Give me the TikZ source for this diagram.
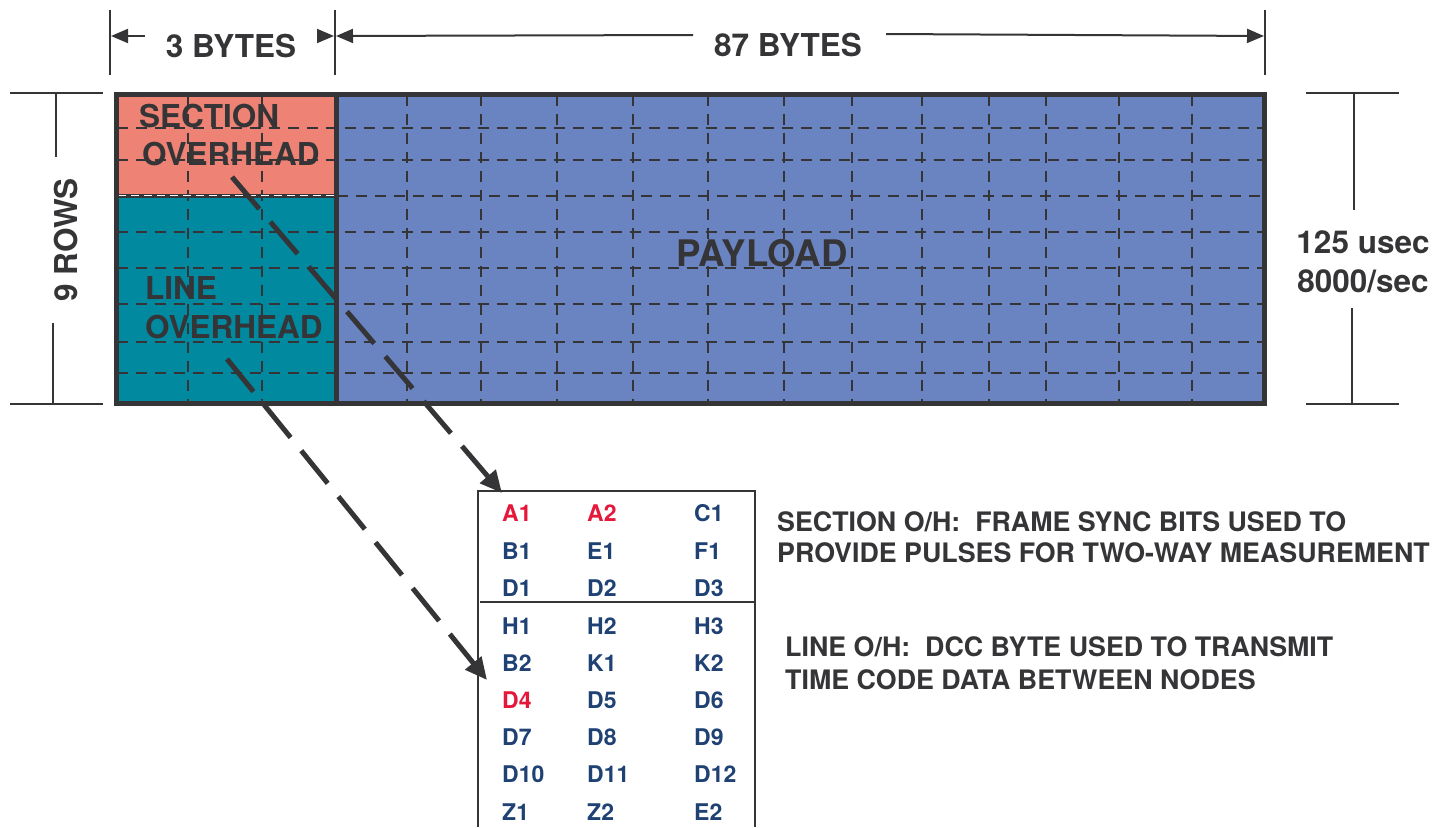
\documentclass[tikz,border=0pt]{standalone}
\usepackage{fontspec}
\setmainfont{TeX Gyre Heros}
\usetikzlibrary{arrows.meta}
\definecolor{ink}{HTML}{353437}
\definecolor{secoh}{HTML}{EE8274}
\definecolor{lineoh}{HTML}{00899F}
\definecolor{payl}{HTML}{6A84C2}
\definecolor{navy}{HTML}{1F4173}
\definecolor{hired}{HTML}{E5173A}
\begin{document}
\begin{tikzpicture}[x=1pt,y=-1pt,
  gridline/.style={draw=ink, line width=2.7pt, dash pattern=on 11pt off 8pt},
  dimline/.style={draw=ink, line width=2pt},
  dimtip/.style={-{Triangle[length=17pt,width=14pt]}},
  bigtxt/.style={font=\bfseries\fontsize{31.5}{34}\selectfont, text=ink, inner sep=0pt},
  notetxt/.style={font=\bfseries\fontsize{26.8}{31}\selectfont, text=ink, inner sep=0pt, anchor=base west},
  cell/.style={font=\bfseries\fontsize{23}{25}\selectfont, text=navy, inner sep=0pt, anchor=base west},
  redcell/.style={cell, text=hired},
  ohlink/.style={draw=ink, line width=5pt, dash pattern=on 42pt off 17pt, -{Triangle[length=22pt,width=20pt]}}]
\useasboundingbox (0,0) rectangle (1437,827);
% fills
\fill[secoh] (116.5,94.5) rectangle (336.5,196);
\fill[lineoh] (116.5,196) rectangle (336.5,403.5);
\fill[payl] (336.5,94.5) rectangle (1264.5,403.5);
% grid
\foreach \yy in {128,160,232,268,304,342,373}
  \draw[gridline] (116.5,\yy) -- (1264.5,\yy);
\draw[gridline] (336.5,196) -- (1264.5,196);
\foreach \xx in {188,262,407,481,557,633,708,784,852,922,989,1046,1119,1192}
  \draw[gridline] (\xx,94.5) -- (\xx,403.5);
% section / line boundary
\draw[ink, line width=4pt] (116.5,196) -- (336.5,196);
\draw[white, line width=1pt, dash pattern=on 8pt off 5pt] (118,195) -- (336.5,195);
% frame
\draw[ink, line width=5pt] (116.5,94.5) rectangle (1264.5,403.5);
\draw[ink, line width=5pt] (336.5,94.5) -- (336.5,403.5);
% top dimensions
\coordinate (tA) at (110,10); \coordinate (tAb) at (110,75);
\coordinate (tB) at (335,10); \coordinate (tBb) at (335,75);
\coordinate (tC) at (1265,10); \coordinate (tCb) at (1265,75);
\draw[dimline] (tA) -- (tAb);
\draw[dimline] (tB) -- (tBb);
\draw[dimline] (tC) -- (tCb);
\coordinate (a1s) at (145,36); \coordinate (a1e) at (111,36);
\coordinate (a2s) at (320,36); \coordinate (a2e) at (334,36);
\coordinate (a3s) at (693,35); \coordinate (a3e) at (336,36);
\coordinate (a4s) at (886,34); \coordinate (a4e) at (1264,36);
\draw[dimline, dimtip] (a1s) -- (a1e);
\draw[dimline, dimtip] (a2s) -- (a2e);
\draw[dimline, dimtip] (a3s) -- (a3e);
\draw[dimline, dimtip] (a4s) -- (a4e);
\node[bigtxt, anchor=base] (three) at (231,57.3) {3 BYTES};
\node[bigtxt, anchor=base] (eightyseven) at (788,56.5) {87 BYTES};
% left dimension
\coordinate (l1) at (10,93); \coordinate (l1e) at (103,93);
\coordinate (l2) at (10,404); \coordinate (l2e) at (103,404);
\draw[dimline] (l1) -- (l1e);
\draw[dimline] (l2) -- (l2e);
\coordinate (lv1) at (56,93); \coordinate (lv1e) at (56,157);
\coordinate (lv2) at (53,323); \coordinate (lv2e) at (53,404);
\draw[dimline] (lv1) -- (lv1e);
\draw[dimline] (lv2) -- (lv2e);
\node[bigtxt, rotate=90] (rows) at (66,240) {9 ROWS};
% right dimension
\coordinate (r1) at (1306,93); \coordinate (r1e) at (1399,93);
\coordinate (r2) at (1306,404); \coordinate (r2e) at (1399,404);
\draw[dimline] (r1) -- (r1e);
\draw[dimline] (r2) -- (r2e);
\coordinate (rv1) at (1354,93); \coordinate (rv1e) at (1354,210);
\coordinate (rv2) at (1352,308); \coordinate (rv2e) at (1352,404);
\draw[dimline] (rv1) -- (rv1e);
\draw[dimline] (rv2) -- (rv2e);
\node[bigtxt, anchor=base] (usec) at (1363,253.3) {125 usec};
\node[bigtxt, anchor=base] (persec) at (1363,292.3) {8000/sec};
% frame labels
\node[bigtxt, anchor=base west] (sec1) at (139,127.3) {SECTION};
\node[bigtxt, anchor=base west] (sec2) at (142,165.5) {OVERHEAD};
\node[bigtxt, anchor=base west] (lin1) at (145,299.3) {LINE};
\node[bigtxt, anchor=base west] (lin2) at (145,338.3) {OVERHEAD};
\node[bigtxt, font=\bfseries\fontsize{36.6}{40}\selectfont, anchor=base] (pay) at (762,266.2) {PAYLOAD};
% table
\coordinate (tbl) at (478,827); \coordinate (ttl) at (478,491);
\coordinate (ttr) at (755,491); \coordinate (tbr) at (755,827);
\draw[ink, line width=2.2pt] (tbl) -- (ttl) -- (ttr) -- (tbr);
\coordinate (sepl) at (480,602); \coordinate (sepr) at (755,602);
\draw[ink, line width=2.2pt] (sepl) -- (sepr);
\foreach \ya/\yb/\yc/\yy [count=\i] in {B1/E1/F1/551, D1/D2/D3/588, H1/H2/H3/626, B2/K1/K2/663, D7/D8/D9/737, D10/D11/D12/774, Z1/Z2/E2/812}{
  \node[cell] (c\i a) at (502,\yy+8.3) {\ya};
  \node[cell] (c\i b) at (587,\yy+8.3) {\yb};
  \node[cell] (c\i c) at (694,\yy+8.3) {\yc};
}
\node[redcell] (cA1) at (502,521.3) {A1};
\node[redcell] (cA2) at (587,521.3) {A2};
\node[cell] (cC1) at (694,521.3) {C1};
\node[redcell] (cD4) at (502,708.3) {D4};
\node[cell] (cD5) at (587,708.3) {D5};
\node[cell] (cD6) at (694,708.3) {D6};
% notes
\node[notetxt] (sn1) at (777,531.5) {SECTION O/H:\ \ FRAME SYNC BITS USED TO};
\node[notetxt] (sn2) at (777,562.5) {PROVIDE PULSES FOR TWO-WAY MEASUREMENT};
\node[notetxt] (ln1) at (785,656.5) {LINE O/H:\ \ DCC BYTE USED TO TRANSMIT};
\node[notetxt] (ln2) at (785,689.5) {TIME CODE DATA BETWEEN NODES};
% overhead links
\coordinate (secFrom) at (232,177); \coordinate (secTip) at (502,493);
\coordinate (linFrom) at (227,359); \coordinate (linTip) at (487,680);
\draw[ohlink] (secFrom) -- (secTip);
\draw[ohlink] (linFrom) -- (linTip);
\end{tikzpicture}
\end{document}
